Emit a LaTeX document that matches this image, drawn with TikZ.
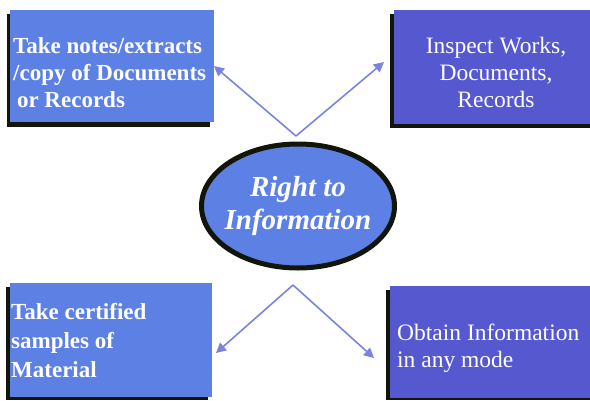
\documentclass[tikz,border=0pt]{standalone}
\usepackage{fontspec}
\setmainfont{Liberation Serif}
\usetikzlibrary{arrows.meta,shapes.geometric}
\definecolor{skyfill}{RGB}{92,128,228}
\definecolor{violetfill}{RGB}{86,88,208}
\definecolor{linkblue}{RGB}{122,132,222}
\definecolor{darkedge}{RGB}{18,22,10}
\begin{document}
\begin{tikzpicture}[x=1pt,y=-1pt,
  card/.style={draw=none,inner sep=0pt,text=white},
  boldtext/.style={font=\fontsize{23}{27}\selectfont\bfseries},
  plaintext/.style={font=\fontsize{23.5}{27}\selectfont},
  link/.style={draw=linkblue,line width=1.6pt,
    -{Triangle[length=10pt,width=10pt]}}]
\useasboundingbox (0,0) rectangle (590,400);
% panels with a dark drop shadow on the lower left
\fill[darkedge] (7,14) rectangle (210,127);
\fill[skyfill] (10,10) rectangle (214,122);
\fill[darkedge] (390,14) rectangle (590,128);
\fill[violetfill] (394,10) rectangle (590,124);
\fill[darkedge] (6,287) rectangle (208,400);
\fill[skyfill] (10,283) rectangle (212,397);
\fill[darkedge] (386,290) rectangle (590,400);
\fill[violetfill] (390,286) rectangle (590,398);
% panel texts
\node[card,boldtext,anchor=west,align=left] (notes) at (13,73)
  {Take notes/extracts\\/copy of Documents\\\,or Records};
\node[card,plaintext,anchor=center,align=center] (inspect) at (496,72)
  {Inspect Works,\\Documents,\\Records};
\node[card,anchor=west,align=left,font=\fontsize{23}{29}\selectfont\bfseries] (samples) at (11,341)
  {Take certified\\samples of\\Material};
\node[card,plaintext,anchor=west,align=left] (obtain) at (397,348)
  {Obtain Information\\in any mode};
% central ellipse
\node[ellipse,draw=darkedge,line width=5pt,fill=skyfill,minimum width=193pt,
  minimum height=124pt,inner xsep=-14pt,inner ysep=0pt,text=white,align=center,
  font=\fontsize{29}{33}\selectfont\bfseries\itshape] (rti) at (298,206)
  {Right to\\Information};
% branching arrows
\coordinate (topfork) at (296,136);
\coordinate (botfork) at (293,285);
\coordinate (tlend) at (214,66);
\coordinate (trend) at (384,62);
\coordinate (blend) at (216,353);
\coordinate (brend) at (374,358);
\draw[link] (topfork) -- (tlend);
\draw[link] (topfork) -- (trend);
\draw[link] (botfork) -- (blend);
\draw[link] (botfork) -- (brend);
\end{tikzpicture}
\end{document}
